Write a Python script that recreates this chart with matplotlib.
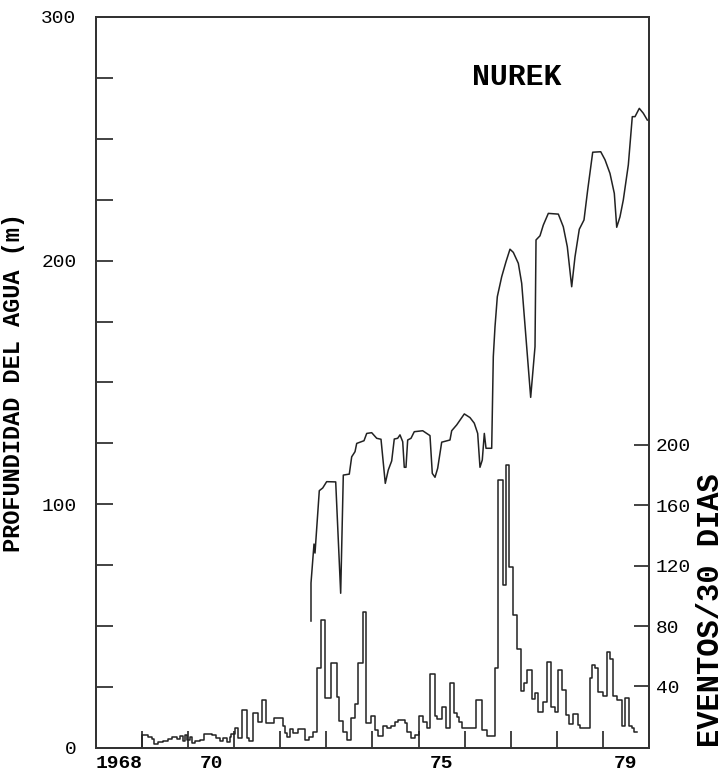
import matplotlib
matplotlib.use("Agg")
import matplotlib.pyplot as plt
from matplotlib.ticker import FixedLocator, NullFormatter

# profundidad del agua (m), Nurek
depth_year = [1972.666, 1972.666, 1972.731, 1972.753, 1972.846, 1972.920, 1973.006,
              1973.202, 1973.310, 1973.367, 1973.497, 1973.549, 1973.621, 1973.658,
              1973.816, 1973.875, 1973.983, 1974.092, 1974.185, 1974.278, 1974.343,
              1974.417, 1974.473, 1974.547, 1974.597, 1974.656, 1974.690, 1974.727,
              1974.764, 1974.836, 1974.907, 1975.090, 1975.248, 1975.298, 1975.357,
              1975.415, 1975.502, 1975.682, 1975.719, 1975.828, 1975.993, 1976.116,
              1976.209, 1976.283, 1976.333, 1976.383, 1976.427, 1976.464, 1976.587,
              1976.622, 1976.659, 1976.709, 1976.804, 1976.898, 1976.984, 1977.056,
              1977.165, 1977.238, 1977.295, 1977.433, 1977.527, 1977.549, 1977.635,
              1977.707, 1977.816, 1978.033, 1978.141, 1978.228, 1978.323, 1978.395,
              1978.488, 1978.590, 1978.670, 1978.779, 1978.953, 1979.046, 1979.154,
              1979.248, 1979.300, 1979.371, 1979.443, 1979.552, 1979.638, 1979.697,
              1979.790, 1979.877, 1979.964]
depth_m = [52.1, 67.7, 83.7, 80.0, 105.6, 106.7, 109.3,
           109.2, 63.5, 112.0, 112.4, 119.5, 121.6, 125.0,
           126.1, 129.1, 129.4, 127.1, 126.7, 108.6, 114.1,
           117.8, 126.8, 127.1, 128.5, 125.7, 115.2, 115.2,
           126.4, 127.1, 129.8, 130.2, 128.2, 112.7, 111.1,
           114.8, 125.5, 126.4, 130.2, 132.6, 137.1, 135.6,
           133.3, 129.1, 115.2, 118.2, 129.1, 123.0, 123.0,
           160.6, 172.9, 185.2, 193.4, 199.6, 204.7, 203.4,
           198.9, 190.7, 177.0, 143.9, 164.7, 208.5, 210.2,
           214.6, 219.4, 219.1, 213.9, 205.7, 189.3, 201.6,
           212.9, 216.7, 229.0, 244.5, 244.7, 241.4, 235.8,
           227.6, 213.7, 218.0, 224.9, 239.3, 259.1, 259.1,
           262.5, 260.5, 257.7]

# eventos / 30 dias (inicio de cada escalon)
ev_year = [1968.99, 1969.13, 1969.21, 1969.26, 1969.35, 1969.46, 1969.57, 1969.64,
           1969.75, 1969.82, 1969.88, 1969.93, 1969.98, 1970.04, 1970.09, 1970.15,
           1970.26, 1970.34, 1970.51, 1970.60, 1970.69, 1970.75, 1970.84, 1970.91,
           1970.94, 1971.02, 1971.09, 1971.16, 1971.27, 1971.33, 1971.41, 1971.52,
           1971.60, 1971.69, 1971.86, 1972.05, 1972.10, 1972.15, 1972.21, 1972.28,
           1972.39, 1972.54, 1972.62, 1972.70, 1972.79, 1972.88, 1972.97, 1973.11,
           1973.22, 1973.28, 1973.37, 1973.45, 1973.53, 1973.61, 1973.69, 1973.79,
           1973.87, 1973.96, 1974.05, 1974.13, 1974.22, 1974.32, 1974.40, 1974.49,
           1974.56, 1974.71, 1974.76, 1974.84, 1974.92, 1975.02, 1975.10, 1975.18,
           1975.25, 1975.36, 1975.41, 1975.50, 1975.59, 1975.68, 1975.77, 1975.83,
           1975.88, 1975.95, 1976.25, 1976.37, 1976.49, 1976.66, 1976.73, 1976.83,
           1976.90, 1976.97, 1977.06, 1977.13, 1977.22, 1977.29, 1977.36, 1977.46,
           1977.53, 1977.60, 1977.69, 1977.79, 1977.87, 1977.96, 1978.03, 1978.11,
           1978.20, 1978.27, 1978.35, 1978.45, 1978.50, 1978.71, 1978.76, 1978.83,
           1978.90, 1979.00, 1979.08, 1979.16, 1979.23, 1979.30, 1979.41, 1979.47,
           1979.57, 1979.63, 1979.68]
ev_count = [7.9, 6.8, 5.1, 2.0, 3.1, 4.2, 5.3, 6.4,
            5.1, 7.3, 4.2, 7.7, 4.6, 6.8, 2.4, 4.0,
            4.6, 8.6, 7.9, 5.7, 4.2, 5.7, 3.5, 6.4,
            8.6, 12.4, 5.7, 24.5, 5.7, 4.2, 22.2, 16.7,
            31.1, 16.1, 19.0, 14.0, 9.1, 6.4, 11.7, 9.1,
            11.7, 4.6, 6.4, 10.1, 52.4, 84.0, 32.2, 55.3,
            32.9, 17.4, 10.1, 4.6, 18.9, 28.4, 55.8, 89.5,
            15.7, 20.7, 11.2, 7.3, 14.1, 12.8, 13.9, 16.8,
            17.9, 16.1, 10.1, 5.7, 7.9, 20.5, 16.8, 12.4,
            48.0, 20.5, 18.3, 26.2, 12.8, 42.5, 22.7, 20.1,
            16.8, 12.4, 30.8, 11.5, 7.5, 52.0, 176.5, 107.1,
            186.4, 118.8, 87.3, 64.8, 37.2, 42.1, 50.9, 31.5,
            35.5, 23.4, 30.0, 56.4, 26.3, 23.4, 50.9, 37.7,
            21.2, 15.2, 21.6, 14.5, 12.3, 45.4, 54.2, 52.0,
            36.6, 33.7, 63.1, 58.1, 33.7, 31.1, 13.9, 32.2,
            13.9, 12.3, 10.1]
ev_end = 1979.73

year_ticks = list(range(1969, 1980))
year_label_pos = [1968.5, 1970.5, 1975.5, 1979.5]
year_labels = ["1968", "70", "75", "79"]
event_ticks = [40, 80, 120, 160, 200]

MONO = "Liberation Mono"
INK = "#222222"

fig = plt.figure(figsize=(7.26, 7.76), dpi=100)
ax = fig.add_axes([0.1322, 0.0361, 0.7617, 0.9420])
ax2 = ax.twinx()

ax.plot(depth_year, depth_m, color=INK, lw=1.1)

sx = [ev_year[0]] + ev_year + [ev_end]
sy = [0] + ev_count + [ev_count[-1]]
ax2.step(sx, sy, where="post", color=INK, lw=1.1)

ax.set_xlim(1968, 1980)
ax.set_ylim(0, 300)
ax2.set_ylim(-0.7, 483)

# eje x: marcas en cada año, etiquetas centradas en el año
ax.xaxis.set_major_locator(FixedLocator(year_label_pos))
ax.set_xticklabels(year_labels, fontfamily=MONO, fontsize=14, fontweight="bold")
ax.xaxis.set_minor_locator(FixedLocator(year_ticks))
ax.tick_params(axis="x", which="major", length=0, pad=5)
ax.tick_params(axis="x", which="minor", direction="in", length=12, width=1.2, color=INK)

ax.yaxis.set_major_locator(FixedLocator([0, 100, 200, 300]))
ax.yaxis.set_minor_locator(FixedLocator([25, 50, 75, 125, 150, 175, 225, 250, 275]))
ax.yaxis.set_minor_formatter(NullFormatter())
ax.tick_params(axis="y", which="both", direction="in", length=12, width=1.2,
               color=INK, pad=14, labelsize=14)
for t in ax.get_yticklabels():
    t.set_fontfamily(MONO)

ax2.yaxis.set_major_locator(FixedLocator(event_ticks))
ax2.tick_params(axis="y", direction="in", length=11, width=1.2, color=INK,
                pad=5, labelsize=14)
for t in ax2.get_yticklabels():
    t.set_fontfamily(MONO)

for a in (ax, ax2):
    for s in a.spines.values():
        s.set_linewidth(1.4)
        s.set_color("#333333")

ax.set_ylabel("PROFUNDIDAD DEL AGUA (m)", fontfamily=MONO, fontweight="bold",
              fontsize=17, labelpad=12)
fig.text(0.979, 0.214, "EVENTOS/30 DIAS", rotation=90, ha="center", va="center",
         fontfamily=MONO, fontweight="bold", fontsize=22)
ax.text(0.761, 0.918, "NUREK", transform=ax.transAxes, ha="center", va="center",
        fontfamily=MONO, fontweight="bold", fontsize=21.5)

fig.savefig("out.png", dpi=100)
